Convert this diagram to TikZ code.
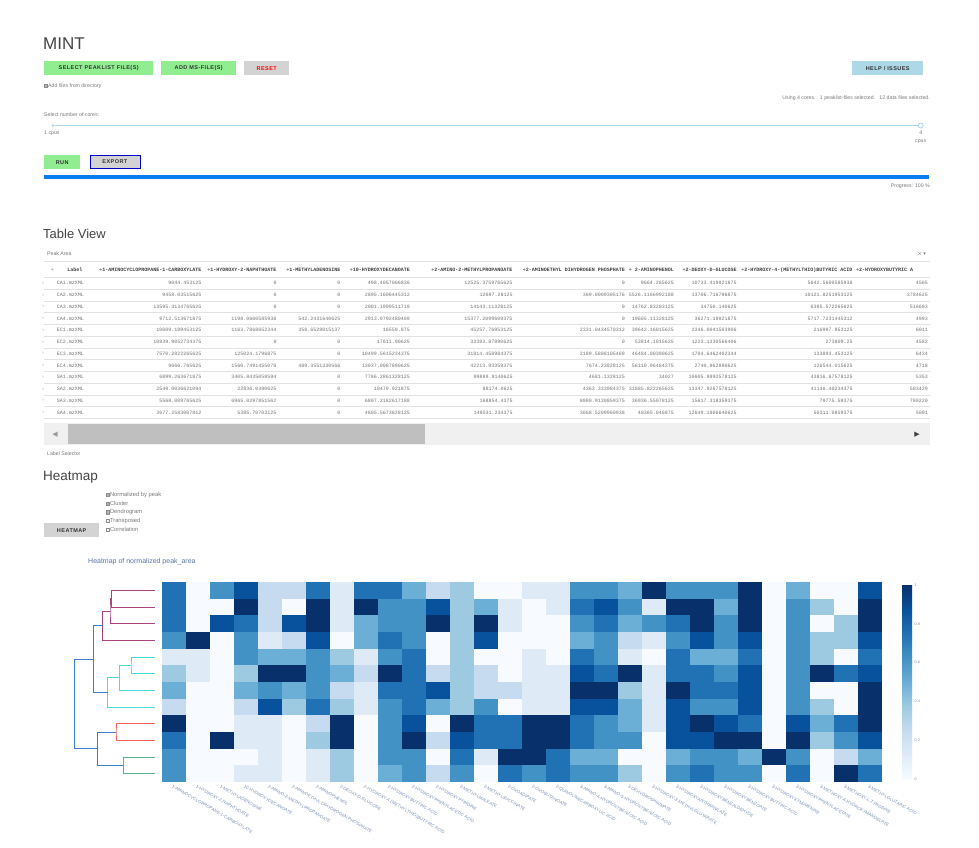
\documentclass[tikz,border=0pt]{standalone}
\usepackage{fontspec}
\setmainfont{Liberation Sans}
\setmonofont{Liberation Mono}
\newfontfamily\btnfont[LetterSpace=8]{Liberation Sans}
\newfontfamily\symfont{DejaVu Sans}

\definecolor{btngreen}{HTML}{90EE90}
\definecolor{btngrey}{HTML}{D3D3D3}
\definecolor{btnblue}{HTML}{ADD8E6}
\definecolor{txtgrey}{HTML}{7A7A7A}
\definecolor{titlegrey}{HTML}{444444}
\definecolor{sliderblue}{HTML}{A8D8F0}
\definecolor{progblue}{HTML}{0B7BF0}
\definecolor{rulegrey}{HTML}{E2E2E2}
\definecolor{plotblue}{HTML}{5A74A0}
\definecolor{dmag}{HTML}{A8457F}
\definecolor{dcyan}{HTML}{55D8D8}
\definecolor{dred}{HTML}{F0645A}
\definecolor{dgreen}{HTML}{5DAF8A}
\definecolor{dblue}{HTML}{3A80D0}
\definecolor{hm0}{HTML}{F7FBFF}
\definecolor{hm1}{HTML}{DEEBF7}
\definecolor{hm2}{HTML}{C6DBEF}
\definecolor{hm3}{HTML}{9ECAE1}
\definecolor{hm4}{HTML}{6BAED6}
\definecolor{hm5}{HTML}{4292C6}
\definecolor{hm6}{HTML}{2171B5}
\definecolor{hm7}{HTML}{08519C}
\definecolor{hm8}{HTML}{08306B}

\tikzset{
  button/.style={anchor=north west, inner sep=0, minimum height=14,
    font=\btnfont\bfseries\fontsize{5.5}{6}\selectfont, text=black!80},
  smalltxt/.style={inner sep=0, text=txtgrey, font=\fontsize{5.2}{6}\selectfont},
  heading/.style={inner sep=0, anchor=base west, text=titlegrey},
  checkbox/.style={draw=black!45, line width=0.4, minimum size=3.2, inner sep=0},
  optlbl/.style={inner sep=0, anchor=west, text=txtgrey, font=\fontsize{5.8}{7}\selectfont},
  tabhead/.style={inner sep=0, anchor=east, text=black!75, font=\ttfamily\bfseries\fontsize{5}{6}\selectfont},
  tabcell/.style={inner sep=0, anchor=east, text=black!55, font=\ttfamily\fontsize{5}{6}\selectfont},
  rowlbl/.style={inner sep=0, anchor=west, text=black!55, font=\ttfamily\fontsize{5}{6}\selectfont},
  xlbl/.style={inner sep=0, anchor=north west, rotate=-30, text=plotblue!80,
    font=\fontsize{4.4}{5}\selectfont},
  cbtick/.style={inner sep=0, anchor=west, text=plotblue!80, font=\fontsize{3.8}{4}\selectfont},
  dlink/.style={line width=0.8}
}

\begin{document}
\begin{tikzpicture}[x=1pt, y=-1pt]
\useasboundingbox (0,0) rectangle (979,847);
\fill[white] (0,0) rectangle (979,847);

% header and file controls
\node[heading, font=\fontsize{17}{20}\selectfont] (title) at (43,49.3) {MINT};
\node[button, fill=btngreen, minimum width=109] (selpeak) at (44,61) {SELECT PEAKLIST FILE(S)};
\node[button, fill=btngreen, minimum width=75] (addms) at (161,61) {ADD MS-FILE(S)};
\node[button, fill=btngrey, minimum width=45, text=red] (reset) at (244,61) {RESET};
\node[button, fill=btnblue, minimum width=71] (help) at (852,61) {HELP / ISSUES};
\node[checkbox, fill=black!30] (adddir) at (45.7,86) {};
\node[smalltxt, anchor=west] (adddirlbl) at (48,86) {Add files from directory};
\node[smalltxt, anchor=east] (status) at (930,98)
  {Using 4 cores.\ \ \ 1 peaklist-files selected.\ \ \ 12 data files selected.};

% cores slider
\node[smalltxt, anchor=west] (corelbl) at (44,115) {Select number of cores:};
\node[circle, fill=sliderblue, inner sep=0, minimum size=3] (slmin) at (53,125.5) {};
\node[circle, draw=sliderblue, fill=white, line width=0.8, inner sep=0, minimum size=5] (slmax) at (920.7,125.5) {};
\draw[sliderblue, line width=0.8] (slmin) -- (slmax);
\node[smalltxt, anchor=west] (cpumin) at (44,133) {1 cpus};
\node[smalltxt] (cpumax) at (920.7,133) {4};
\node[smalltxt] (cpumaxu) at (920.7,142) {cpus};

% run / export / progress
\node[button, fill=btngreen, minimum width=36] (run) at (44,155) {RUN};
\node[button, fill=btngrey, draw=blue!80!black, line width=0.8, minimum width=50, minimum height=13] (export) at (89.5,154.5) {EXPORT};
\fill[progblue] (44,175) rectangle (929,179);
\node[smalltxt, anchor=east] (progress) at (930,186) {Progress: 100 \%};

% table view
\node[heading, font=\fontsize{13}{16}\selectfont] (tabtitle) at (43,238) {Table View};
\node[smalltxt, anchor=west] (peakarea) at (47,254) {Peak Area};
\node[smalltxt, anchor=east, font=\symfont\fontsize{5}{6}\selectfont] (tabmenu) at (926,254) {× ▾};
\draw[rulegrey, line width=0.6] (44,261) -- (930,261);
\foreach \k in {0,...,12}
  \draw[rulegrey, line width=0.6] (44,277.5+11.73*\k) -- (930,277.5+11.73*\k);

\node[tabhead, text=black!45] (hsort) at (54,270) {÷};
\node[tabhead] (hlabel) at (82.5,270) {Label};
\foreach \hd/\xe [count=\c] in {÷1-AMINOCYCLOPROPANE-1-CARBOXYLATE/201.7,
    ÷1-HYDROXY-2-NAPHTHOATE/276.7, ÷1-METHYLADENOSINE/340.5,
    ÷10-HYDROXYDECANOATE/410, ÷2-AMINO-2-METHYLPROPANOATE/512.7,
    ÷2-AMINOETHYL DIHYDROGEN PHOSPHATE/625, ÷ 2-AMINOPHENOL/674,
    ÷2-DEOXY-D-GLUCOSE/736.7, ÷2-HYDROXY-4-(METHYLTHIO)BUTYRIC ACID/852.7}
  \node[tabhead] (h\c) at (\xe,270) {\hd};
\begin{scope}
  \clip (44,262) rectangle (929,420);
  \node[tabhead, anchor=west] (h10) at (856,270) {÷2-HYDROXYBUTYRIC A};
\end{scope}

\foreach \lab/\va/\vb/\vc/\vd/\ve/\vf/\vg/\vh/\vi/\vj [count=\r] in {
  CA1/9044.453125/0/0/498.4057006836/12525.3759765625/0/9664.265625/10733.419921875/5642.5600585938/4565,
  CA2/9458.03515625/0/0/2895.1606445312/12097.28125/369.0000305176/5526.1166992188/13706.716796875/10121.8251953125/3784625,
  CA3/13595.3134765625/0/0/2001.1999511719/14143.11328125/0/14762.83203125/34750.140625/6395.572265625/516693,
  CA4/9712.513671875/1198.0600585938/542.2431640625/2913.9792480469/15377.2099609375/0/19605.11328125/36271.19921875/5717.7231445312/4993,
  EC1/10009.189453125/1163.7868652344/358.6528015137/16559.875/45257.76953125/2331.0434570312/39642.16015625/2346.0041503906/216997.953125/6011,
  EC2/10939.9052734375/0/0/17611.90625/33383.87890625/0/53814.1015625/1223.1330566406/273809.25/4582,
  EC3/7570.2822265625/125024.1796875/0/10499.5615234375/31814.458984375/2189.5808105469/46484.00390625/1704.6462402344/133893.453125/6434,
  EC4/9666.765625/1560.7491455078/489.3551330566/13037.0087890625/42213.93359375/7674.23828125/56110.96484375/2740.962890625/126544.015625/4718,
  SA1/6899.263671875/3405.8435058594/0/7786.2861328125/99889.9140625/4681.1328125/34027/10605.9892578125/43816.67578125/5353,
  SA2/2549.0036621094/22836.0390625/0/10479.921875/88174.0625/4363.333984375/31885.822265625/13347.9267578125/41146.40234375/503429,
  SA3/5568.009765625/6965.0297851562/0/6807.2182617188/168854.4375/8980.9130859375/36936.55078125/15617.318359375/79775.59375/780220,
  SA4/3677.2583007812/5385.70703125/0/4805.5673828125/149531.234375/3668.5209960938/40365.046875/12649.1806640625/50311.0859375/5091}
{
  \node[rowlbl, text=black!35] (sel\r) at (41.5,271.6+11.73*\r) {›};
  \node[rowlbl] (lab\r) at (56.7,271.6+11.73*\r) {\lab.mzXML};
  \foreach \val/\xe [count=\c] in {\va/201.7, \vb/276.7, \vc/340.5, \vd/410,
      \ve/512.7, \vf/625, \vg/674, \vh/736.7, \vi/852.7, \vj/928}
    \node[tabcell] (t\r-\c) at (\xe,271.6+11.73*\r) {\val};
}

% horizontal scrollbar
\fill[black!6] (44,423) rectangle (930,445);
\fill[black!25] (68,424) rectangle (425,444);
\node[inner sep=0, text=black!40, font=\symfont\fontsize{7}{8}\selectfont] (scrl) at (55,434.5) {◀};
\node[inner sep=0, text=black!75, font=\symfont\fontsize{7}{8}\selectfont] (scrr) at (917,434.5) {▶};
\node[smalltxt, anchor=west] (labsel) at (47,453.5) {Label Selector};

% heatmap options
\node[heading, font=\fontsize{13.5}{16}\selectfont] (hmtitle) at (43,480) {Heatmap};
\foreach \opt/\chk [count=\k] in {Normalized by peak/30, Cluster/30, Dendrogram/30,
    Transposed/3, Correlation/3} {
  \node[checkbox, fill=black!\chk] (cb\k) at (107.5,494.5+8.8*\k-8.8) {};
  \node[optlbl] (opt\k) at (109.8,494.5+8.8*\k-8.8) {\opt};
}
\node[button, fill=btngrey, minimum width=55, minimum height=13.5] (hmbtn) at (44,523.2) {HEATMAP};
\node[inner sep=0, anchor=west, text=plotblue, font=\fontsize{7}{8}\selectfont] (plottitle) at (88,561.5) {Heatmap of normalized peak\_area};

% heatmap cells, rows in dendrogram order
\foreach \rowvals [count=\r] in {
  {6,0,5,7,2,2,6,1,6,6,4,2,3,0,0,1,1,5,5,4,8,5,5,5,8,0,4,0,0,7},
  {6,0,0,8,2,0,8,1,8,5,5,7,3,4,1,0,1,6,7,5,1,8,8,4,8,0,5,3,0,8},
  {6,0,7,6,2,7,8,1,4,5,5,8,3,8,1,0,0,5,6,4,5,6,8,5,8,0,5,0,3,8},
  {5,8,0,5,1,2,7,0,4,6,5,0,3,7,0,0,0,4,5,2,1,5,7,5,7,0,5,3,3,7},
  {1,1,0,5,4,4,5,3,1,5,6,0,3,0,0,1,0,6,5,1,0,6,4,4,6,0,5,3,0,6},
  {3,1,0,3,8,8,5,4,2,8,6,2,3,2,0,1,1,7,6,8,1,6,6,5,7,0,5,8,6,7},
  {4,0,0,4,5,4,5,2,1,6,6,7,3,2,2,1,1,8,8,3,1,8,6,6,7,0,5,0,0,8},
  {2,0,0,2,7,3,6,3,1,5,6,4,3,5,0,1,1,7,7,4,1,7,5,5,7,0,5,3,0,8},
  {8,0,0,1,1,0,2,8,0,5,7,0,8,6,6,8,8,6,5,4,1,7,8,7,6,0,7,4,6,8},
  {6,0,8,1,1,0,3,8,0,5,8,2,7,6,6,8,8,6,5,5,0,7,7,8,8,0,8,3,5,7},
  {5,0,0,0,1,0,1,3,0,5,5,0,6,1,8,8,6,4,4,0,0,4,5,5,4,8,5,0,2,4},
  {5,0,0,1,1,0,1,3,0,4,5,2,5,0,6,5,6,5,5,3,0,5,6,5,5,0,6,0,8,6}}
  \foreach \v [count=\c] in \rowvals
    \fill[hm\v] (138+24*\c,565.33+16.67*\r) rectangle ++(24,16.67);

% column labels
\foreach \nm [count=\c] in {1-AMINOCYCLOPROPANE-1-CARBOXYLATE, 1-HYDROXY-2-NAPHTHOATE,
    1-METHYLADENOSINE, 10-HYDROXYDECANOATE, 2-AMINO-2-METHYLPROPANOATE,
    2-AMINOETHYL DIHYDROGEN PHOSPHATE, 2-AMINOPHENOL, 2-DEOXY-D-GLUCOSE,
    2-HYDROXY-4-(METHYLTHIO)BUTYRIC ACID, 2-HYDROXYBUTYRIC ACID,
    2-HYDROXYPHENYLACETIC ACID, 2-HYDROXYPYRIDINE, 2-METHYLMALEATE,
    2-METHYLSUCCINATE, 2-OXOADIPATE, 2-OXOBUTANOATE, 2-QUINOLINECARBOXYLIC ACID,
    3-AMINO-4-HYDROXYBENZOIC ACID, 3-AMINO-5-HYDROXYBENZOIC ACID,
    3-DEHYDROSHIKIMATE, 3-HYDROXY-3-METHYLGLUTARATE, 3-HYDROXYANTHRANILATE,
    3-HYDROXYBENZALDEHYDE, 3-HYDROXYBENZOATE, 3-HYDROXYBUTYRIC ACID,
    3-HYDROXYKYNURENINE, 3-HYDROXYPHENYLACETATE, 3-METHOXY-4-HYDROXYMANDELATE,
    3-METHOXY-L-TYROSINE, 3-METHYLGLUTARIC ACID}
  \node[xlbl] (xl\c) at (149+24*\c,784.5) {\nm};

% colour bar
\foreach \k [evaluate=\k as \kk using int(\k+1)] in {0,...,7}
  \shade[bottom color=hm\k, top color=hm\kk] (902,779-24.25*\k) rectangle (912,779-24.25*\k-24.25);
\foreach \t [count=\c] in {0,0.2,0.4,0.6,0.8,1}
  \node[cbtick] (cbt\c) at (914.5,817.8-38.8*\c) {\t};

% dendrogram
\foreach \r in {1,...,12}
  \coordinate (l\r) at (155,573.67+16.67*\r);
\coordinate (mA) at (111.7,598.7);
\coordinate (mB) at (110,611.2);
\coordinate (mC) at (102.7,625.8);
\coordinate (mD) at (131,665.3);
\coordinate (mE) at (119.3,677.8);
\coordinate (mF) at (107.7,692.4);
\coordinate (mG) at (93.3,659.1);
\coordinate (mH) at (116,732);
\coordinate (mI) at (123.3,765.3);
\coordinate (mJ) at (97.3,748.7);
\coordinate (mK) at (74.3,703.9);

\draw[dlink, dmag] (l1) -| (mA) |- (l2);
\draw[dlink, dmag] (mA) -| (mB) |- (l3);
\draw[dlink, dmag] (mB) -| (mC) |- (l4);
\draw[dlink, dcyan] (l5) -| (mD) |- (l6);
\draw[dlink, dcyan] (mD) -| (mE) |- (l7);
\draw[dlink, dcyan] (mE) -| (mF) |- (l8);
\draw[dlink, dblue] (mC) -| (mG) |- (mF);
\draw[dlink, dred] (l9) -| (mH) |- (l10);
\draw[dlink, dgreen] (l11) -| (mI) |- (l12);
\draw[dlink, dblue] (mH) -| (mJ) |- (mI);
\draw[dlink, dblue] (mG) -| (mK) |- (mJ);
\end{tikzpicture}
\end{document}
